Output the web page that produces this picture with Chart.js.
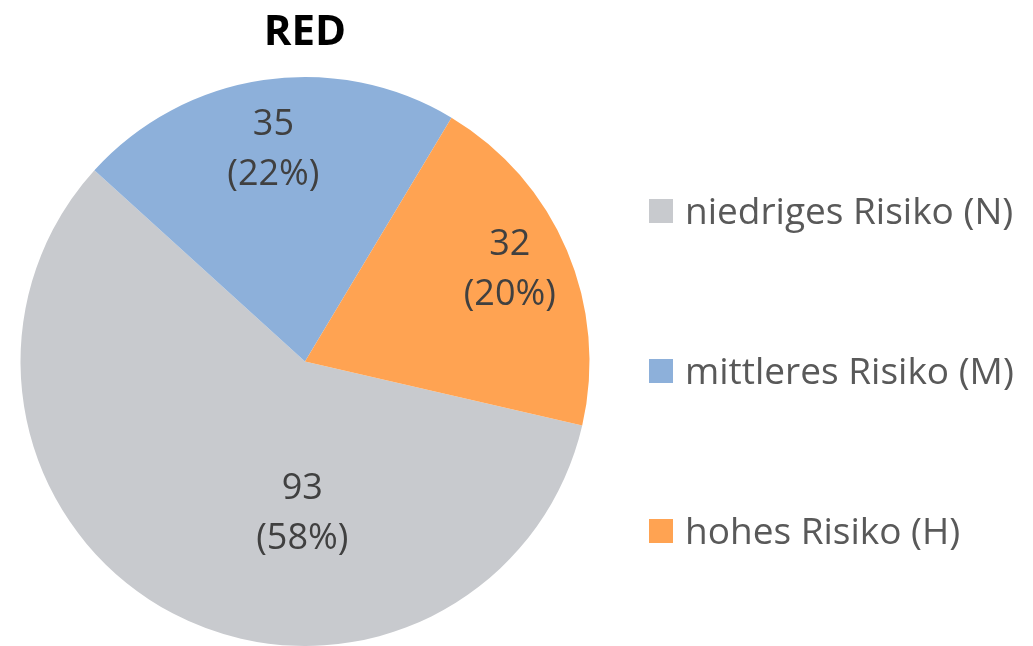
<!DOCTYPE html>
<html>
<head>
<meta charset="utf-8">
<script src="https://cdn.jsdelivr.net/npm/chart.js@4.4.0/dist/chart.umd.min.js"></script>
<style>
html,body{margin:0;padding:0;background:#fff;}
#wrap{width:1033px;height:646px;position:relative;}
</style>
</head>
<body>
<div id="wrap"><canvas id="c" width="1033" height="646"></canvas></div>
<script>
const titleText = 'RED';
const categories = ['niedriges Risiko (N)', 'mittleres Risiko (M)', 'hohes Risiko (H)'];
const counts = [93, 35, 32];
const percentLabels = ['58%', '22%', '20%'];
const colors = ['#C8CACE', '#8DB0DA', '#FFA352'];

const FONT = '"Open Sans", "Noto Sans", sans-serif';

const labelPlugin = {
  id: 'sliceLabels',
  afterDatasetsDraw(chart, args, opts) {
    const ctx = chart.ctx;
    const meta = chart.getDatasetMeta(0);
    ctx.save();
    ctx.font = opts.fontSize + 'px ' + FONT;
    ctx.fillStyle = opts.color;
    ctx.textAlign = 'center';
    ctx.textBaseline = 'middle';
    meta.data.forEach((arc, i) => {
      const p = arc.getProps(['x','y','startAngle','endAngle','outerRadius'], true);
      const ang = p.startAngle + (p.endAngle - p.startAngle) * opts.angleFractions[i];
      const r = p.outerRadius * opts.radiusFactors[i];
      const x = p.x + Math.cos(ang) * r;
      const y = p.y + Math.sin(ang) * r + opts.yShift;
      ctx.fillText(String(counts[i]), x, y - opts.lineGap / 2);
      ctx.fillText('(' + percentLabels[i] + ')', x, y + opts.lineGap / 2);
    });
    ctx.restore();
  }
};

const legendPlugin = {
  id: 'sideLegend',
  afterDraw(chart, args, opts) {
    const ctx = chart.ctx;
    ctx.save();
    ctx.font = opts.fontSize + 'px ' + FONT;
    ctx.textBaseline = 'middle';
    ctx.textAlign = 'left';
    chart.data.labels.forEach((lab, i) => {
      const cy = opts.firstY + i * opts.step;
      ctx.fillStyle = chart.data.datasets[0].backgroundColor[i];
      ctx.fillRect(opts.boxX, cy - opts.box / 2, opts.box, opts.box);
      ctx.fillStyle = opts.color;
      ctx.fillText(lab, opts.textX, cy + 2);
    });
    ctx.restore();
  }
};

new Chart(document.getElementById('c'), {
  type: 'pie',
  data: {
    labels: categories,
    datasets: [{
      data: counts,
      backgroundColor: colors,
      borderWidth: 0
    }]
  },
  options: {
    responsive: false,
    animation: false,
    rotation: 103,
    layout: { padding: { left: 20, right: 443, top: 0, bottom: 0 } },
    plugins: {
      legend: { display: false },
      tooltip: { enabled: false },
      title: {
        display: true,
        text: titleText,
        fullSize: false,
        color: '#000000',
        font: { family: FONT, size: 42, weight: 'bold', lineHeight: 1.2 },
        padding: { top: 8, bottom: 18.6 }
      },
      sliceLabels: { fontSize: 36, color: '#404040', lineGap: 50, yShift: 3,
        radiusFactors: [0.525, 0.763, 0.793], angleFractions: [0.373, 0.5, 0.475] },
      sideLegend: { fontSize: 37, color: '#595959', boxX: 649, box: 24, textX: 685, firstY: 211, step: 160 }
    }
  },
  plugins: [labelPlugin, legendPlugin]
});
</script>
</body>
</html>
